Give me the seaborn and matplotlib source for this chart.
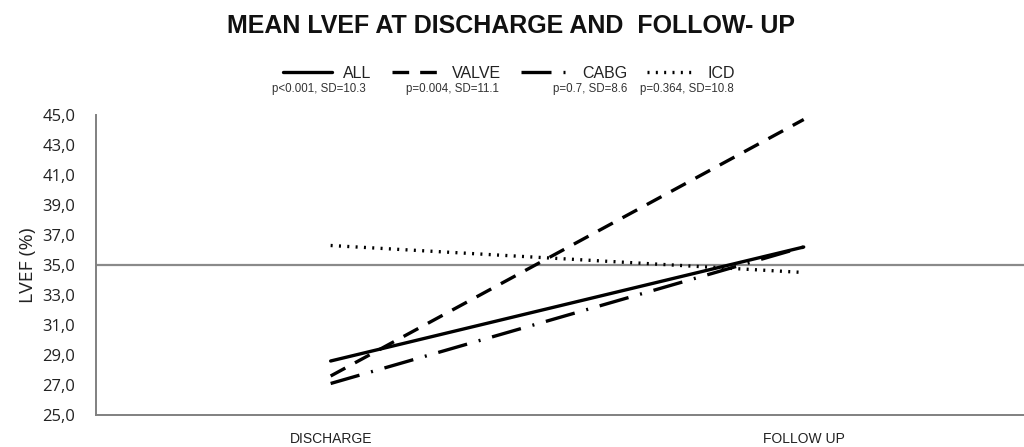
import matplotlib
matplotlib.use("Agg")
import matplotlib.pyplot as plt
import seaborn as sns
import pandas as pd
from matplotlib.lines import Line2D

# Data
timepoints = ["DISCHARGE", "FOLLOW UP"]
groups = ["ALL", "VALVE", "CABG", "ICD"]
all_vals = [28.6, 36.2]
valve_vals = [27.6, 44.7]
cabg_vals = [27.1, 36.2]
icd_vals = [36.3, 34.5]
stats_text = ["p<0.001, SD=10.3", "p=0.004, SD=11.1", "p=0.7, SD=8.6", "p=0.364, SD=10.8"]
yticks = [25, 27, 29, 31, 33, 35, 37, 39, 41, 43, 45]
threshold = 35.0

sns.set_theme(style="white")
plt.rcParams['font.family'] = ['Liberation Sans', 'DejaVu Sans']

rows = []
for g, vals in zip(groups, [all_vals, valve_vals, cabg_vals, icd_vals]):
    for t, v in zip(timepoints, vals):
        rows.append({"time": t, "group": g, "LVEF": v})
df = pd.DataFrame(rows)

dashes = {"ALL": "", "VALVE": (5, 3.3), "CABG": (9, 3.6, 0.6, 3.6), "ICD": (0.6, 1.9)}

fig = plt.figure(figsize=(10.24, 4.47), dpi=100)
ax = fig.add_axes([96/1024, 1 - 415/447, 1 - 96/1024 + 0.002, 300/447])

sns.lineplot(data=df, x="time", y="LVEF", hue="group", style="group",
             palette={g: "black" for g in groups}, dashes=dashes,
             linewidth=2.4, ax=ax, legend=False, sort=False)

ax.axhline(threshold, color="#8a8a8a", lw=1.6, zorder=0)
ax.set_xlim(-0.496, 1.47)
ax.set_ylim(25, 45)
ax.set_yticks(yticks)
ax.set_yticklabels([f"{v:.1f}".replace(".", ",") for v in yticks],
                   fontsize=12, family=['Open Sans', 'DejaVu Sans'], color="#222222")
ax.set_xticks([0, 1])
ax.set_xticklabels(timepoints, fontsize=10, color="#222222")
ax.tick_params(axis="both", length=0)
ax.tick_params(axis="y", pad=15)
ax.tick_params(axis="x", pad=12)
ax.set_xlabel("")
ax.set_ylabel("LVEF (%)", fontsize=14, family=['Open Sans', 'DejaVu Sans'], color="#222222", labelpad=4)
for s in ["top", "right"]:
    ax.spines[s].set_visible(False)
for s in ["left", "bottom"]:
    ax.spines[s].set_color("#808080")
    ax.spines[s].set_linewidth(1.4)

fig.text(511/1024, 1 - 26/447, "MEAN LVEF AT DISCHARGE AND  FOLLOW- UP", ha="center", va="center",
         fontsize=18, fontweight="bold", color="#111111")

handles = [Line2D([0], [0], color="black", lw=2.4, linestyle="-" if not dashes[g] else (0, dashes[g]))
           for g in groups]
leg = fig.legend(handles, groups, loc="center", bbox_to_anchor=(509/1024, 1 - 73/447),
                 ncol=4, frameon=False, fontsize=11.5, handlelength=3.1, handletextpad=0.7,
                 columnspacing=1.25, borderpad=0, borderaxespad=0)
for t in leg.get_texts():
    t.set_color("#222222")

stat_x = [319, 452, 590, 687]
for x, s in zip(stat_x, stats_text):
    fig.text(x/1024, 1 - 89/447, s, ha="center", va="center", fontsize=8.3, color="#333333")

fig.savefig("out.png", dpi=100)
